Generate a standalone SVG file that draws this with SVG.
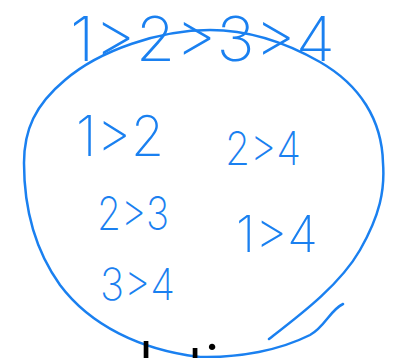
<svg xmlns="http://www.w3.org/2000/svg" width="401" height="358" viewBox="0 0 401 358">
<style>
.ink{fill:#1a80f0;font-family:Inter,"Liberation Sans",sans-serif;font-weight:200}
.line{fill:none;stroke:#1a80f0;stroke-width:2.5;stroke-linecap:round;stroke-linejoin:round}
.cap{fill:#000;font-family:Roboto,"Liberation Sans",sans-serif;font-weight:300}
</style>
<rect width="401" height="358" fill="#fff"/>
<g id="outline">
<path class="line" d="M269,339 C300,315 340,285 360,250 C380,215 385,190 383,163 C382,120 360,85 320,62 C285,42 250,30 210,30 C160,30 100,50 65,80 C35,105 24,130 24,163 C24,210 35,250 60,285 C90,325 140,350 200,357 C240,358 280,350 310,335 C325,327 330,310 343,304"/>
</g>
<g id="connectors"/>
<g id="chain"><text class="ink" x="70" y="61" font-size="62" textLength="265" lengthAdjust="spacingAndGlyphs">1&gt;2&gt;3&gt;4</text></g>
<g id="pair-1-2"><text class="ink" x="76" y="156" font-size="56" textLength="88" lengthAdjust="spacingAndGlyphs">1&gt;2</text></g>
<g id="pair-2-3"><text class="ink" x="97" y="230" font-size="46" textLength="72" lengthAdjust="spacingAndGlyphs">2&gt;3</text></g>
<g id="pair-3-4"><text class="ink" x="100" y="300" font-size="44" textLength="75" lengthAdjust="spacingAndGlyphs">3&gt;4</text></g>
<g id="pair-2-4"><text class="ink" x="225" y="165" font-size="46" textLength="76" lengthAdjust="spacingAndGlyphs">2&gt;4</text></g>
<g id="pair-1-4"><text class="ink" x="236" y="252" font-size="50" textLength="82" lengthAdjust="spacingAndGlyphs">1&gt;4</text></g>
<g id="caption"><text class="cap" x="137 156 184 203" y="401" font-size="80">lati</text></g>
</svg>
